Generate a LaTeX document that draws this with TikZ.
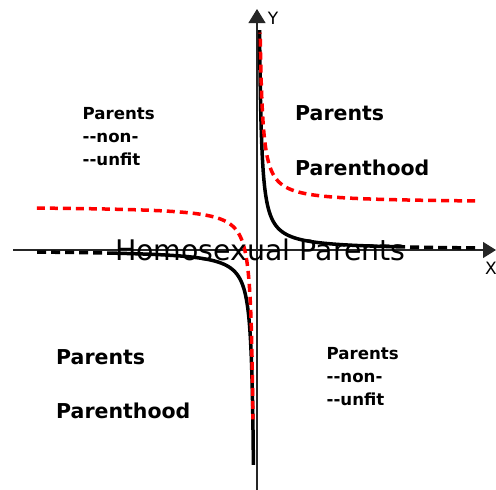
\documentclass[tikz,border=0pt]{standalone}
\usepackage{fontspec}
\newfontfamily\dv{DejaVu Sans}
\usetikzlibrary{arrows.meta}
\tikzset{
  axis/.style={line width=1.1pt, black!85},
  blk/.style={line width=3.5pt, black, line join=round},
  blkdash/.style={line width=3.5pt, black, dash pattern=on 9pt off 5pt},
  reddash/.style={line width=3.5pt, red, dash pattern=on 8pt off 5pt},
  bigtxt/.style={anchor=base west, inner sep=0pt, font=\dv\bfseries\fontsize{20.5}{24}\selectfont},
  smalltxt/.style={anchor=base west, inner sep=0pt, align=left, font=\dv\bfseries\fontsize{16.6}{23}\selectfont},
  axlabel/.style={inner sep=0pt, font=\dv\fontsize{17}{20}\selectfont}
}
\begin{document}
\begin{tikzpicture}[x=1pt,y=-1pt]
\useasboundingbox[fill=white] (0,0) rectangle (496,490);
% axes
\coordinate (ybot) at (257,490);
\coordinate (ytop) at (257,9);
\coordinate (xl) at (13,250);
\coordinate (xr) at (496,250);
\draw[axis,-{Triangle[length=14pt,width=17pt]}] (ybot) -- (ytop);
\draw[axis,-{Triangle[length=13pt,width=16pt]}] (xl) -- (xr);
\node[axlabel] (ylab) at (273,18) {Y};
\node[axlabel] (xlab) at (491,268) {X};
% black hyperbola
\draw[blk] plot[domain=1.115:5.394,samples=200,smooth] ({257.5+450/exp(\x)},{250-exp(\x)});
\draw[blkdash] plot[domain=0.727:1.115,samples=30] ({257.5+450/exp(\x)},{250-exp(\x)});
\draw[blk] plot[domain=1.143:5.37,samples=200,smooth] ({255.5-450/exp(\x)},{250+exp(\x)});
\draw[blkdash] plot[domain=0.723:1.143,samples=30] ({255.5-450/exp(\x)},{250+exp(\x)});
% red hyperbola
\draw[reddash] plot[domain=0.727:5.14,samples=250,smooth] ({257.5+450/exp(\x)},{203-exp(\x)});
\draw[reddash] plot[domain=0.724:5.366,samples=250,smooth] ({255-450/exp(\x)},{206+exp(\x)});
% texts
\node[anchor=base west, inner sep=0pt, font=\dv\fontsize{28.4}{32}\selectfont] (homo) at (115,260) {Homosexual Parents};
\node[smalltxt] (ul1) at (82.5,119) {Parents};
\node[smalltxt] (ul2) at (82.5,142) {--non-};
\node[smalltxt] (ul3) at (82.5,165) {--unfit};
\node[smalltxt] (lr1) at (326.5,359) {Parents};
\node[smalltxt] (lr2) at (326.5,382) {--non-};
\node[smalltxt] (lr3) at (326.5,405) {--unfit};
\node[bigtxt] (ur1) at (295,120) {Parents};
\node[bigtxt] (ur2) at (295,175) {Parenthood};
\node[bigtxt] (ll1) at (56,364) {Parents};
\node[bigtxt] (ll2) at (56,418) {Parenthood};
\end{tikzpicture}
\end{document}
